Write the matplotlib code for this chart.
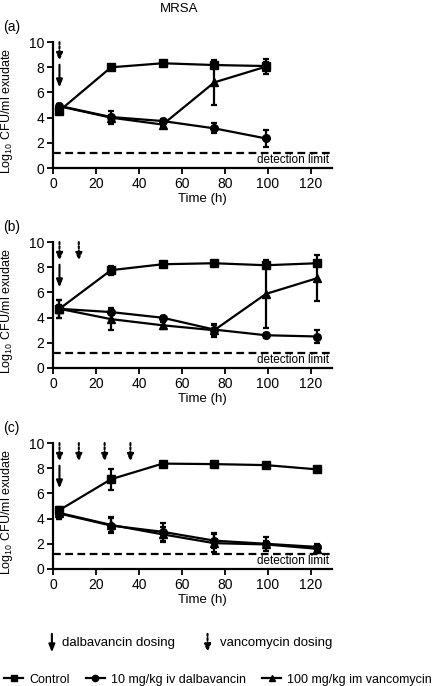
import matplotlib.pyplot as plt
from matplotlib.lines import Line2D

plt.rcParams['font.family'] = ['Liberation Sans', 'DejaVu Sans']
plt.rcParams['mathtext.default'] = 'regular'

# Sampling times (h)
times_a = [3, 27, 51, 75, 99]
times_bc = [3, 27, 51, 75, 99, 123]

# Panel (a)
ctrl_a = [4.55, 8.0, 8.32, 8.18, 8.1]
ctrl_a_err = [0.15, 0.2, 0.1, 0.2, 0.3]
dalb_a = [4.93, 4.05, 3.73, 3.15, 2.35]
dalb_a_err = [0.15, 0.15, 0.15, 0.4, 0.7]
vanc_a = [4.9, 4.0, 3.45, 6.8, 8.05]
vanc_a_err = [0.15, 0.5, 0.15, 1.8, 0.6]

# Panel (b)
ctrl_b = [4.7, 7.77, 8.24, 8.32, 8.16, 8.32]
ctrl_b_err = [0.3, 0.35, 0.08, 0.08, 0.08, 0.08]
dalb_b = [4.7, 4.44, 3.99, 3.05, 2.6, 2.5]
dalb_b_err = [0.7, 0.15, 0.15, 0.4, 0.2, 0.5]
vanc_b = [4.7, 3.88, 3.39, 3.0, 5.88, 7.14]
vanc_b_err = [0.7, 0.85, 0.3, 0.5, 2.7, 1.8]

# Panel (c)
ctrl_c = [4.68, 7.13, 8.37, 8.33, 8.25, 7.91]
ctrl_c_err = [0.2, 0.85, 0.08, 0.08, 0.08, 0.08]
dalb_c = [4.4, 3.45, 2.95, 2.25, 2.0, 1.75]
dalb_c_err = [0.45, 0.6, 0.7, 0.6, 0.55, 0.25]
vanc_c = [4.45, 3.5, 2.75, 2.05, 1.95, 1.6]
vanc_c_err = [0.45, 0.6, 0.6, 0.7, 0.25, 0.25]

DETECTION_LIMIT = 1.2

# Dosing times (h)
dalb_doses = [3]
vanc_doses_a = [3]
vanc_doses_b = [3, 12]
vanc_doses_c = [3, 12, 24, 36]

panels = [
    ('(a)', times_a, [(ctrl_a, ctrl_a_err, 's'), (dalb_a, dalb_a_err, 'o'), (vanc_a, vanc_a_err, '^')], vanc_doses_a),
    ('(b)', times_bc, [(ctrl_b, ctrl_b_err, 's'), (dalb_b, dalb_b_err, 'o'), (vanc_b, vanc_b_err, '^')], vanc_doses_b),
    ('(c)', times_bc, [(ctrl_c, ctrl_c_err, 's'), (dalb_c, dalb_c_err, 'o'), (vanc_c, vanc_c_err, '^')], vanc_doses_c),
]

solid_arrow = dict(arrowstyle='-|>,head_length=0.45,head_width=0.18', lw=1.5, color='black',
                   mutation_scale=10, shrinkA=0, shrinkB=0)
dotted_arrow = dict(arrowstyle='-|>,head_length=0.45,head_width=0.18', linestyle=(0, (1, 1)), lw=1.5,
                    color='black', mutation_scale=10, shrinkA=0, shrinkB=0)

fig = plt.figure(figsize=(4.36, 6.86), dpi=100)
bottoms = [0.7551, 0.4636, 0.1706]

for (tag, t, series, vdoses), bottom in zip(panels, bottoms):
    ax = fig.add_axes([0.1216, bottom, 0.641, 0.1835])
    for y, err, m in series:
        ax.errorbar(t, y, yerr=err, color='black', marker=m, markersize=5.5,
                    linewidth=1.6, elinewidth=1.6, capsize=2.5, capthick=1.6, zorder=3)
    ax.axhline(DETECTION_LIMIT, color='black', linestyle=(0, (3.5, 2)), linewidth=1.6)
    ax.text(128.5, DETECTION_LIMIT - 0.12, 'detection limit', ha='right', va='top', fontsize=8.5)
    # vancomycin dosing (dotted arrows)
    for d in vdoses:
        ax.annotate('', xy=(d, 8.5), xytext=(d, 10), arrowprops=dotted_arrow)
    # dalbavancin dosing (solid arrow)
    for d in dalb_doses:
        ax.annotate('', xy=(d, 6.4), xytext=(d, 8.2), arrowprops=solid_arrow)
    ax.set_xlim(0, 130)
    ax.set_ylim(0, 10)
    ax.set_xticks([0, 20, 40, 60, 80, 100, 120])
    ax.set_yticks([0, 2, 4, 6, 8, 10])
    ax.spines['top'].set_visible(False)
    ax.spines['right'].set_visible(False)
    ax.spines['left'].set_linewidth(1.6)
    ax.spines['bottom'].set_linewidth(1.6)
    ax.tick_params(labelsize=10, width=1.3, length=4, pad=2.5)
    ax.set_xlabel('Time (h)', fontsize=9.5, labelpad=3)
    ax.xaxis.set_label_coords(0.535, -0.2)
    ax.set_ylabel('Log$_{10}$ CFU/ml exudate', fontsize=9)
    ax.yaxis.set_label_coords(-0.135, 0.45)
    ax.text(-0.18, 1.12, tag, transform=ax.transAxes, fontsize=10, va='center')

fig.text(0.41, 0.987, 'MRSA', ha='center', va='center', fontsize=9.5)

# Dosing legend
fig.text(0.143, 0.0625, 'dalbavancin dosing', ha='left', va='center', fontsize=9.5)
fig.text(0.505, 0.0625, 'vancomycin dosing', ha='left', va='center', fontsize=9.5)
fig.add_artist(plt.Annotation('', xy=(0.119, 0.049), xytext=(0.119, 0.076),
                              xycoords='figure fraction', arrowprops=solid_arrow))
fig.add_artist(plt.Annotation('', xy=(0.476, 0.049), xytext=(0.476, 0.076),
                              xycoords='figure fraction', arrowprops=dotted_arrow))

# Treatment legend
handles = [Line2D([], [], color='black', marker=m, markersize=4.5, linewidth=1.6) for m in ['s', 'o', '^']]
labels = ['Control', '10 mg/kg iv dalbavancin', '100 mg/kg im vancomycin']
fig.legend(handles, labels, loc='center', bbox_to_anchor=(0.5, 0.009), ncol=3, frameon=False,
           fontsize=9, handlelength=1.5, handletextpad=0.5, columnspacing=1.3, borderaxespad=0,
           borderpad=0)

fig.savefig('out.png', dpi=100)
